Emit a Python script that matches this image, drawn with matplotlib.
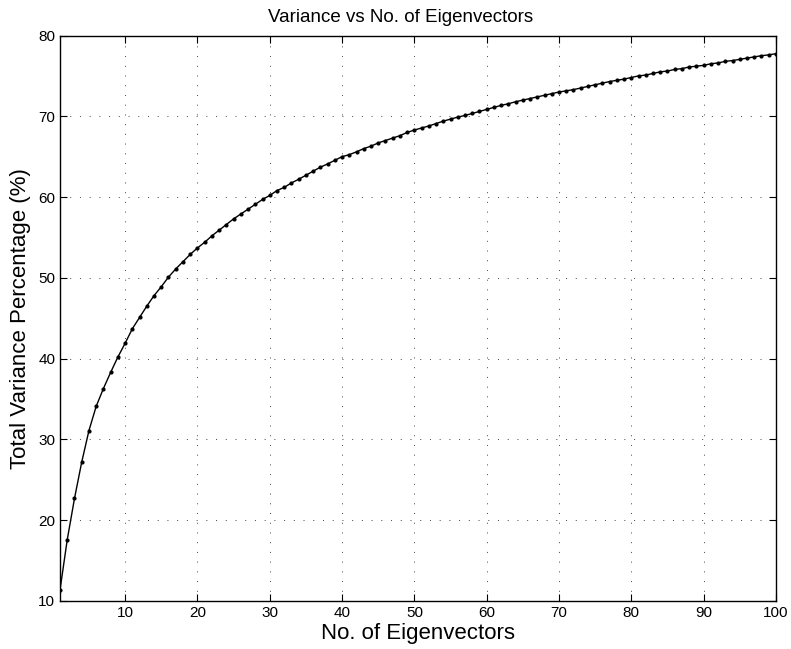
import matplotlib
import matplotlib.pyplot as plt

matplotlib.use("agg")
plt.rcParams["font.family"] = ["Liberation Sans", "DejaVu Sans"]

eigenvectors = list(range(1, 101))
variance = [
    11.4, 17.6, 22.7, 27.2, 31.1, 34.1, 36.3, 38.3, 40.2, 41.9,
    43.7, 45.1, 46.5, 47.8, 48.9, 50.1, 51.1, 52.0, 52.9, 53.7,
    54.4, 55.2, 55.9, 56.6, 57.3, 57.9, 58.5, 59.1, 59.7, 60.2,
    60.8, 61.2, 61.75, 62.2, 62.7, 63.2, 63.7, 64.1, 64.55, 65.0,
    65.25, 65.6, 66.0, 66.3, 66.7, 67.0, 67.3, 67.6, 68.0, 68.3,
    68.55, 68.8, 69.1, 69.4, 69.65, 69.9, 70.1, 70.35, 70.6, 70.85,
    71.1, 71.35, 71.55, 71.8, 72.0, 72.2, 72.4, 72.6, 72.8, 73.0,
    73.15, 73.3, 73.5, 73.7, 73.9, 74.1, 74.3, 74.45, 74.6, 74.8,
    75.0, 75.1, 75.3, 75.5, 75.6, 75.8, 75.9, 76.1, 76.2, 76.3,
    76.5, 76.6, 76.8, 76.9, 77.05, 77.2, 77.35, 77.5, 77.6, 77.75,
]
xticks = [10, 20, 30, 40, 50, 60, 70, 80, 90, 100]
yticks = [10, 20, 30, 40, 50, 60, 70, 80]

fig = plt.figure(figsize=(7.91, 6.49), dpi=100)
ax = fig.add_axes([0.0759, 0.074, 0.905, 0.8713])

ax.plot(eigenvectors, variance, color="black", linewidth=1.0,
        marker=".", markersize=4)

ax.set_xlim(1, 100)
ax.set_ylim(10, 80)
ax.set_xticks(xticks)
ax.set_yticks(yticks)
ax.tick_params(direction="in", top=True, right=True, labelsize=11, length=5,
               width=0.8)
ax.grid(True, linestyle=(0, (1, 9)), color="#444444", linewidth=0.7)
for s in ax.spines.values():
    s.set_linewidth(1.0)

ax.set_title("Variance vs No. of Eigenvectors", fontsize=13.5, pad=10, x=0.475)
ax.set_xlabel("No. of Eigenvectors", fontsize=16, labelpad=2)
ax.set_ylabel("Total Variance Percentage (%)", fontsize=16, labelpad=5)

fig.savefig("out.png", dpi=100)
